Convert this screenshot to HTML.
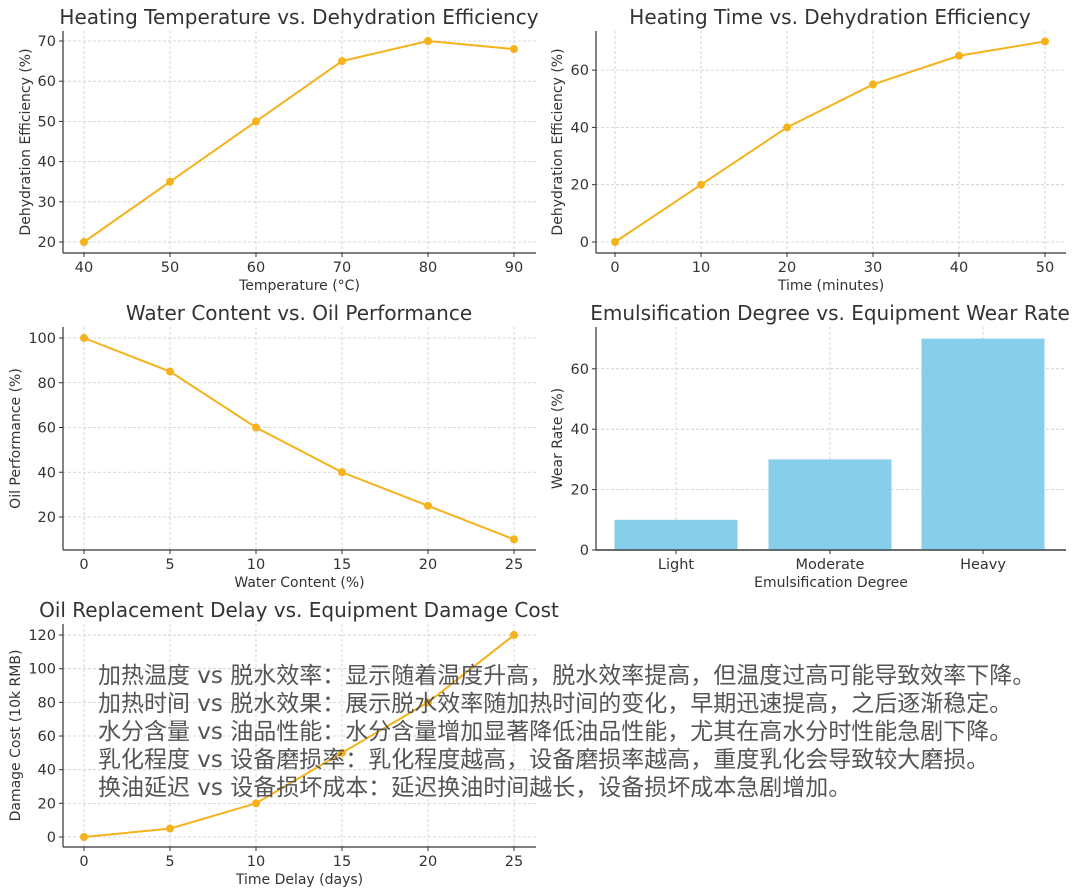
<!DOCTYPE html>
<html><head><meta charset="utf-8"><style>
html,body{margin:0;padding:0;background:#fff;width:1080px;height:895px;overflow:hidden}
svg{display:block}
text{font-family:"DejaVu Sans","Liberation Sans",sans-serif;fill:#333}
.ov{font-family:"DejaVu Sans","Noto Sans CJK SC",sans-serif;fill:#555;font-size:23px}
</style></head><body>
<svg id="s" width="1080" height="895" xmlns="http://www.w3.org/2000/svg"></svg>
<script>
const s=document.getElementById('s');let h='';
const C='#F5B21A';
function chart(o){
 const {L,R,T,B}=o;
 o.xt.forEach(t=>{h+=`<line x1="${t[1]}" y1="${T}" x2="${t[1]}" y2="${B}" stroke="#ccc" stroke-width="0.8" stroke-dasharray="3,2"/>`;
  h+=`<line x1="${t[1]}" y1="${B}" x2="${t[1]}" y2="${B+4}" stroke="#333"/>`;
  h+=`<text x="${t[1]}" y="${B+19}" font-size="14.5" text-anchor="middle">${t[0]}</text>`;});
 o.yt.forEach(t=>{h+=`<line x1="${L}" y1="${t[1]}" x2="${R}" y2="${t[1]}" stroke="#ccc" stroke-width="0.8" stroke-dasharray="3,2"/>`;
  h+=`<line x1="${L-4}" y1="${t[1]}" x2="${L}" y2="${t[1]}" stroke="#333"/>`;
  h+=`<text x="${L-7}" y="${t[1]+5}" font-size="14.5" text-anchor="end">${t[0]}</text>`;});
 h+=`<line x1="${L}" y1="${T}" x2="${L}" y2="${B}" stroke="#333" stroke-width="1.2"/>`;
 h+=`<line x1="${L}" y1="${B}" x2="${R}" y2="${B}" stroke="#333" stroke-width="1.2"/>`;
 h+=`<text x="${o.tx}" y="${T-7}" font-size="20" text-anchor="middle">${o.title}</text>`;
 h+=`<text x="${(L+R)/2}" y="${B+37}" font-size="14" text-anchor="middle">${o.xl}</text>`;
 const yc=(T+B)/2;
 h+=`<text x="${o.ylx}" y="${yc}" font-size="14" text-anchor="middle" transform="rotate(-90 ${o.ylx} ${yc})">${o.yl}</text>`;
}
function line(pts){h+=`<polyline points="${pts.map(p=>p.join(',')).join(' ')}" fill="none" stroke="${C}" stroke-width="2"/>`;
 pts.forEach(p=>h+=`<circle cx="${p[0]}" cy="${p[1]}" r="4" fill="${C}"/>`);}
{const L=63,R=536,T=31,B=253;const X=v=>84+(v-40)*8.6,Y=v=>242-(v-20)*4.02;
chart({L,R,T,B,title:'Heating Temperature vs. Dehydration Efficiency',tx:299,xl:'Temperature (°C)',yl:'Dehydration Efficiency (%)',ylx:30,
xt:[40,50,60,70,80,90].map(v=>[v,X(v)]),yt:[20,30,40,50,60,70].map(v=>[v,Y(v)])});
line([[40,20],[50,35],[60,50],[70,65],[80,70],[90,68]].map(p=>[X(p[0]),Y(p[1])]));}
{const L=596,R=1066,T=31,B=253;const X=v=>615+v*8.6,Y=v=>242-v*2.865;
chart({L,R,T,B,title:'Heating Time vs. Dehydration Efficiency',tx:830,xl:'Time (minutes)',yl:'Dehydration Efficiency (%)',ylx:562,
xt:[0,10,20,30,40,50].map(v=>[v,X(v)]),yt:[0,20,40,60].map(v=>[v,Y(v)])});
line([[0,0],[10,20],[20,40],[30,55],[40,65],[50,70]].map(p=>[X(p[0]),Y(p[1])]));}
{const L=63,R=536,T=327,B=550;const X=v=>84+v*17.2,Y=v=>338+(100-v)*2.2375;
chart({L,R,T,B,title:'Water Content vs. Oil Performance',tx:299,xl:'Water Content (%)',yl:'Oil Performance (%)',ylx:20,
xt:[0,5,10,15,20,25].map(v=>[v,X(v)]),yt:[20,40,60,80,100].map(v=>[v,Y(v)])});
line([[0,100],[5,85],[10,60],[15,40],[20,25],[25,10]].map(p=>[X(p[0]),Y(p[1])]));}
{const L=596,R=1066,T=327,B=550;const Y=v=>550-v*3.02;
chart({L,R,T,B,title:'Emulsification Degree vs. Equipment Wear Rate',tx:830,xl:'Emulsification Degree',yl:'Wear Rate (%)',ylx:562,
xt:[['Light',676],['Moderate',830],['Heavy',983]],yt:[0,20,40,60].map(v=>[v,Y(v)])});
[[676,10],[830,30],[983,70]].forEach(b=>h+=`<rect x="${b[0]-61.5}" y="${Y(b[1])}" width="123" height="${b[1]*3.02}" fill="#87CEEB"/>`);
h+=`<line x1="${L}" y1="${B}" x2="${R}" y2="${B}" stroke="#333" stroke-width="1.2"/>`;}
{const L=63,R=536,T=624,B=847;const X=v=>84+v*17.2,Y=v=>837-v*1.683;
chart({L,R,T,B,title:'Oil Replacement Delay vs. Equipment Damage Cost',tx:299,xl:'Time Delay (days)',yl:'Damage Cost (10k RMB)',ylx:20,
xt:[0,5,10,15,20,25].map(v=>[v,X(v)]),yt:[0,20,40,60,80,100,120].map(v=>[v,Y(v)])});
line([[0,0],[5,5],[10,20],[15,50],[20,80],[25,120]].map(p=>[X(p[0]),Y(p[1])]));}
const lines=['加热温度 vs 脱水效率：显示随着温度升高，脱水效率提高，但温度过高可能导致效率下降。',
'加热时间 vs 脱水效果：展示脱水效率随加热时间的变化，早期迅速提高，之后逐渐稳定。',
'水分含量 vs 油品性能：水分含量增加显著降低油品性能，尤其在高水分时性能急剧下降。',
'乳化程度 vs 设备磨损率：乳化程度越高，设备磨损率越高，重度乳化会导致较大磨损。',
'换油延迟 vs 设备损坏成本：延迟换油时间越长，设备损坏成本急剧增加。'];
lines.forEach((t,i)=>h+=`<text class="ov" x="98" y="${683+i*28}">${t}</text>`);
s.innerHTML=h;
</script>
</body></html>
